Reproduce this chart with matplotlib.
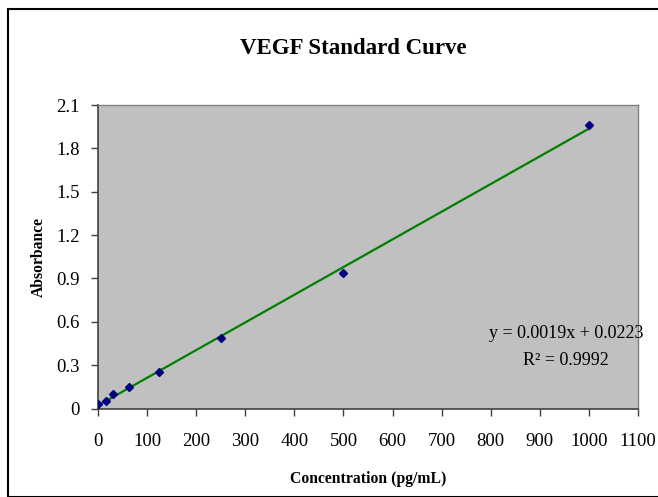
import numpy as np
import matplotlib
matplotlib.use("Agg")
import matplotlib.pyplot as plt
from matplotlib.patches import Rectangle

# VEGF standards (pg/mL) and measured absorbance
conc = [0, 15.625, 31.25, 62.5, 125, 250, 500, 1000]
absorbance = [0.029, 0.054, 0.100, 0.147, 0.253, 0.490, 0.936, 1.960]

x_ticks = [0, 100, 200, 300, 400, 500, 600, 700, 800, 900, 1000, 1100]
y_ticks = [0, 0.3, 0.6, 0.9, 1.2, 1.5, 1.8, 2.1]
y_tick_labels = ['0', '0.3', '0.6', '0.9', '1.2', '1.5', '1.8', '2.1']

eq_text = 'y = 0.0019x + 0.0223'
r2_text = 'R² = 0.9992'

plt.rcParams['font.family'] = ['Liberation Serif', 'DejaVu Serif']

W, H = 658, 497
fig = plt.figure(figsize=(W / 100, H / 100), dpi=100)

# outer chart border
fig.patches.append(Rectangle((8 / W, 0), 1, 1 - 9 / H, transform=fig.transFigure,
                             fill=False, edgecolor='black', linewidth=1.5))

left, right, top, bottom = 98, 638, 105, 408.5
ax = fig.add_axes([left / W, 1 - bottom / H, (right - left) / W, (bottom - top) / H])
ax.set_facecolor('#C0C0C0')

# linear trendline
slope, intercept = np.polyfit(conc, absorbance, 1)
xs = np.array([0, max(conc)])
ax.plot(xs, slope * xs + intercept, color='#008000', linewidth=1.6, zorder=2)
ax.plot(conc, absorbance, linestyle='none', marker='D', markersize=4,
        color='#000080', zorder=3)

ax.set_xlim(0, 1100)
ax.set_ylim(0, 2.1)
ax.set_xticks(x_ticks)
ax.set_yticks(y_ticks)
ax.set_yticklabels(y_tick_labels)
ax.tick_params(axis='both', direction='out', length=5, width=1, color='#404040',
               labelsize=13.5, labelcolor='black')
ax.tick_params(axis='x', pad=13)
ax.tick_params(axis='y', pad=8)

for side in ['top', 'right']:
    ax.spines[side].set_color('#808080')
    ax.spines[side].set_linewidth(1)
for side in ['left', 'bottom']:
    ax.spines[side].set_color('#404040')
    ax.spines[side].set_linewidth(1.2)

ax.set_xlabel('Concentration (pg/mL)', fontsize=11.3, fontweight='bold', labelpad=15)
ax.set_ylabel('Absorbance', fontsize=11.3, fontweight='bold', labelpad=7)

ax.text(953, 0.52, eq_text, fontsize=13, ha='center', va='center')
ax.text(953, 0.333, r2_text, fontsize=13, ha='center', va='center')

fig.text(353 / W, 1 - 48 / H, 'VEGF Standard Curve', fontsize=16.5,
         fontweight='bold', ha='center', va='center')

fig.savefig('out.png', dpi=100)
